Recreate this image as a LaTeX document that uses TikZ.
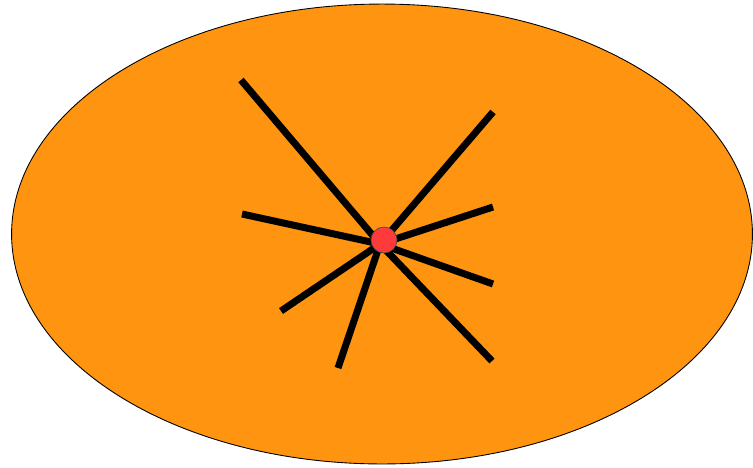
\documentclass[tikz,border=0pt]{standalone}
\usepackage{tikz}
\usetikzlibrary{shapes.geometric, positioning, calc}
\definecolor{naranjaFondo}{HTML}{FF9410}
\definecolor{rojoCentro}{HTML}{FF3A3A}

\begin{document}
\begin{tikzpicture}[
        x=0.02cm, y=-0.02cm,
        fondo/.style={ellipse, draw=black, fill=naranjaFondo, line width=0.5pt,
            minimum width=14.82cm, minimum height=9.2cm, inner sep=0pt},
        centro/.style={circle, draw=black!70, fill=rojoCentro, line width=0.4pt,
            minimum size=0.52cm, inner sep=0pt},
        rayo/.style={line width=0.14cm, black}
    ]
        \useasboundingbox (0,0) rectangle (753,467);
        \node[fondo] (elipse) at (382,234) {};

        % extremos de los rayos
        \coordinate (r1) at (241,80);
        \coordinate (r2) at (493,112);
        \coordinate (r3) at (242,214);
        \coordinate (r4) at (493,207);
        \coordinate (r5) at (493,284);
        \coordinate (r6) at (281,311);
        \coordinate (r7) at (338,368);
        \coordinate (r8) at (492,361);
        \coordinate (cruce) at (380,244);

        \foreach \r in {r1,r2,r3,r4,r5,r6,r7,r8}
            \draw[rayo] (\r) -- (cruce);

        \node[centro] (hub) at (384,240) {};
    \end{tikzpicture}
\end{document}
